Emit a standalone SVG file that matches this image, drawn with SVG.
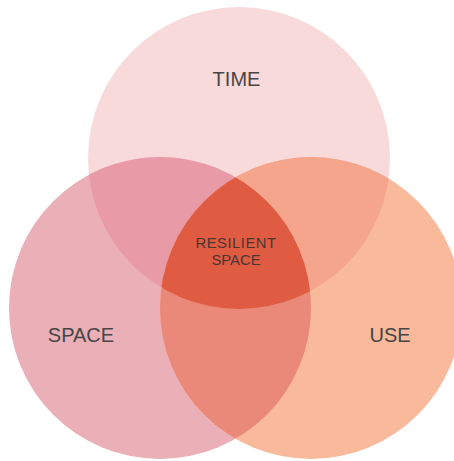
<svg xmlns="http://www.w3.org/2000/svg" width="454" height="461" viewBox="0 0 454 461">
  <style>
    .lbl { font-family: "Liberation Sans", Arial, sans-serif; font-size: 20px; fill: #474545; text-anchor: middle; }
    .ctr { font-family: "Liberation Sans", Arial, sans-serif; font-size: 14.8px; fill: #4a3631; text-anchor: middle; }
  </style>
  <defs>
    <clipPath id="cTime"><circle cx="239" cy="158" r="151"/></clipPath>
    <clipPath id="cSpace"><circle cx="160" cy="308" r="151"/></clipPath>
    <clipPath id="cUse"><circle cx="311" cy="308" r="151"/></clipPath>
  </defs>
  <rect width="454" height="461" fill="#ffffff"/>
  <g id="time">
    <circle cx="239" cy="158" r="151" fill="#F8DADB"/>
  </g>
  <g id="space">
    <circle cx="160" cy="308" r="151" fill="#EAAFB7"/>
  </g>
  <g id="use">
    <circle cx="311" cy="308" r="151" fill="#F9B99B"/>
  </g>
  <g id="overlaps">
    <g clip-path="url(#cTime)"><circle cx="160" cy="308" r="151" fill="#E89BA6"/></g>
    <g clip-path="url(#cTime)"><circle cx="311" cy="308" r="151" fill="#F5A58B"/></g>
    <g clip-path="url(#cSpace)"><circle cx="311" cy="308" r="151" fill="#EA8979"/></g>
    <g clip-path="url(#cTime)"><g clip-path="url(#cSpace)"><circle cx="311" cy="308" r="151" fill="#DF5C43"/></g></g>
  </g>
  <g id="connectors"></g>
  <g id="labels">
    <text class="lbl" x="236.5" y="86">TIME</text>
    <text class="lbl" x="81" y="342">SPACE</text>
    <text class="lbl" x="390" y="342">USE</text>
    <g id="resilient-space">
      <text class="ctr" x="236" y="247.5" letter-spacing="0.5">RESILIENT</text>
      <text class="ctr" x="236" y="264.5">SPACE</text>
    </g>
  </g>
</svg>
